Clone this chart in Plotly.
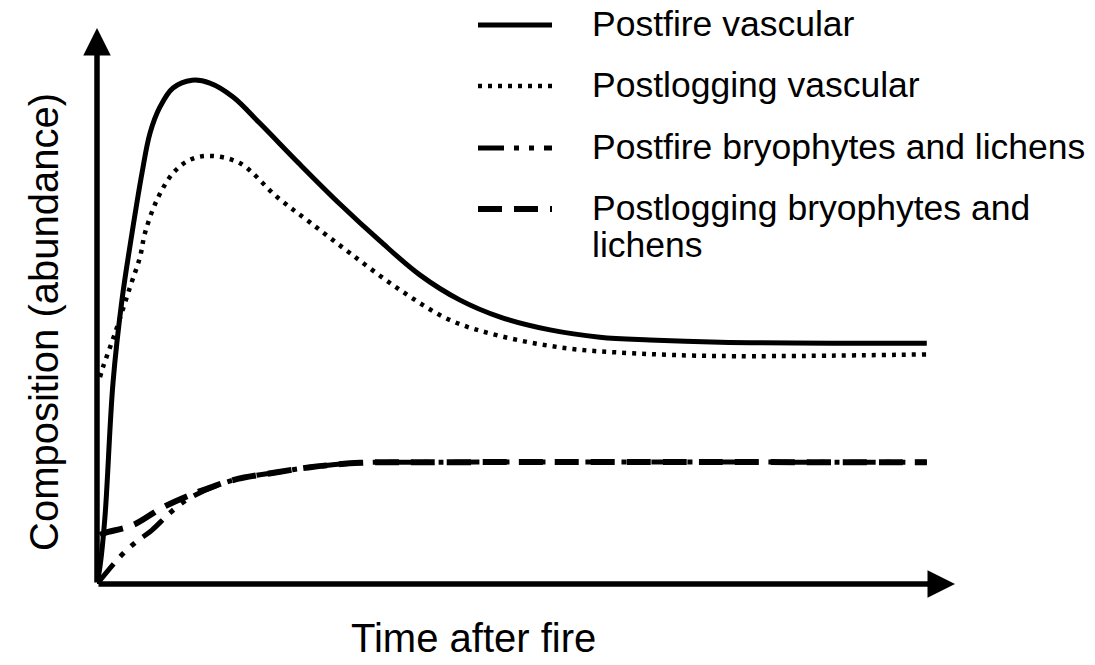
import plotly.graph_objects as go

# ---- data (arbitrary units: x 0-100, y 0-100) ----
postfire_vasc_x = [0, 0.36, 0.96, 1.93, 3.01, 4.22, 5.42, 6.39, 7.59, 9.16, 11.45, 13.6,
                   16.4, 19.6, 24.5, 29.3, 34.1, 38.9, 43.7, 48.6, 54.6, 60.6, 66.6, 75.1, 100]
postfire_vasc_y = [0, 3.1, 12.1, 36.2, 51.1, 63.1, 73.9, 81.1, 85.8, 89.2, 90.6, 90.1,
                   87.6, 82.9, 75.4, 68.3, 61.7, 55.6, 51.1, 48.0, 45.7, 44.4, 43.9, 43.5, 43.3]

postlog_vasc_x = [0.36, 0.72, 2.17, 3.98, 5.18, 5.78, 7.23, 9.16, 11.2, 13.6, 17.2, 21.7,
                  25.7, 30.5, 36.5, 42.5, 48.6, 56.6, 64.6, 75.1, 100]
postlog_vasc_y = [37.2, 39.0, 45.1, 53.4, 58.8, 63.1, 69.1, 73.9, 76.3, 77.0, 75.7, 69.6,
                  65.0, 59.5, 52.9, 47.5, 44.6, 42.4, 41.5, 41.0, 41.3]

postfire_bryo_x = [0, 2.77, 4.58, 6.63, 8.8, 11.2, 16.4, 21.7, 25.7, 31.7, 39.8, 100]
postfire_bryo_y = [0, 4.9, 7.4, 9.7, 12.8, 15.5, 18.7, 20.1, 21.0, 21.8, 21.9, 21.9]

postlog_bryo_x = [0.36, 0.96, 4.34, 7.95, 11.2, 12.8, 16.4, 21.7, 25.7, 31.7, 39.8, 100]
postlog_bryo_y = [8.8, 9.2, 10.6, 13.8, 16.0, 16.9, 18.7, 20.1, 21.0, 21.8, 21.9, 21.9]

names = ["Postfire vascular", "Postlogging vascular",
         "Postfire bryophytes and lichens", "Postlogging bryophytes and<br>lichens"]

# ---- figure geometry (pixels) ----
W, H = 1095, 665
L, R, T, B = 97, 140, 28, 81
PW, PH = W - L - R, H - T - B
FONT = "Arial, Liberation Sans, sans-serif"


def px(x):
    return (x - L) / PW


def py(y):
    return (H - B - y) / PH


styles = [
    dict(width=5, dash="solid"),
    dict(width=4.5, dash="4px,6px"),
    dict(width=5, dash="26px,10px,5px,10px,5px,10px"),
    dict(width=6, dash="24px,12px"),
]
series = [
    (postfire_vasc_x, postfire_vasc_y),
    (postlog_vasc_x, postlog_vasc_y),
    (postfire_bryo_x, postfire_bryo_y),
    (postlog_bryo_x, postlog_bryo_y),
]

fig = go.Figure()
for (xs, ys), name, st in zip(series, names, styles):
    fig.add_trace(go.Scatter(
        x=xs, y=ys, mode="lines", name=name.replace("<br>", " "),
        line=dict(color="black", width=st["width"], dash=st["dash"], shape="spline", smoothing=1.0),
        showlegend=False, cliponaxis=False,
    ))

annotations = []
shapes = []

# axes drawn as thick arrows
annotations.append(dict(x=0, y=1, xref="paper", yref="paper", text="", showarrow=True,
                        ax=0, ay=PH, arrowhead=2, arrowsize=1, arrowwidth=5.5, arrowcolor="black"))
annotations.append(dict(x=1, y=0, xref="paper", yref="paper", text="", showarrow=True,
                        ax=-PW, ay=0, arrowhead=2, arrowsize=1, arrowwidth=5.5, arrowcolor="black"))

# hand-made legend
row_y = [25, 86, 148, 209]
for yy, name, st in zip(row_y, names, styles):
    shapes.append(dict(type="line", xref="paper", yref="paper",
                       x0=px(478), x1=px(552), y0=py(yy), y1=py(yy),
                       line=dict(color="black", width=st["width"], dash=st["dash"])))
    for i, part in enumerate(name.split("<br>")):
        annotations.append(dict(x=px(590), y=py(yy + i * 37 - 1), xref="paper", yref="paper",
                                text=part, showarrow=False, xanchor="left", yanchor="middle",
                                align="left", font=dict(size=35.5, color="black", family=FONT)))

# axis titles
annotations.append(dict(x=px(44), y=py(322), xref="paper", yref="paper",
                        text="Composition (abundance)", textangle=-90, showarrow=False,
                        xanchor="center", yanchor="middle",
                        font=dict(size=40, color="black", family=FONT)))
annotations.append(dict(x=px(473), y=py(638), xref="paper", yref="paper",
                        text="Time after fire", showarrow=False,
                        xanchor="center", yanchor="middle",
                        font=dict(size=40, color="black", family=FONT)))

fig.update_layout(
    width=W, height=H,
    margin=dict(l=L, r=R, t=T, b=B),
    paper_bgcolor="white", plot_bgcolor="white",
    xaxis=dict(range=[0, 103.4], showgrid=False, zeroline=False, showticklabels=False,
               showline=False, ticks=""),
    yaxis=dict(range=[0, 100], showgrid=False, zeroline=False, showticklabels=False,
               showline=False, ticks=""),
    annotations=annotations,
    shapes=shapes,
    showlegend=False,
)

fig.write_html("out.html", config={"displayModeBar": False},
               post_script="document.body.style.margin = '0';")
